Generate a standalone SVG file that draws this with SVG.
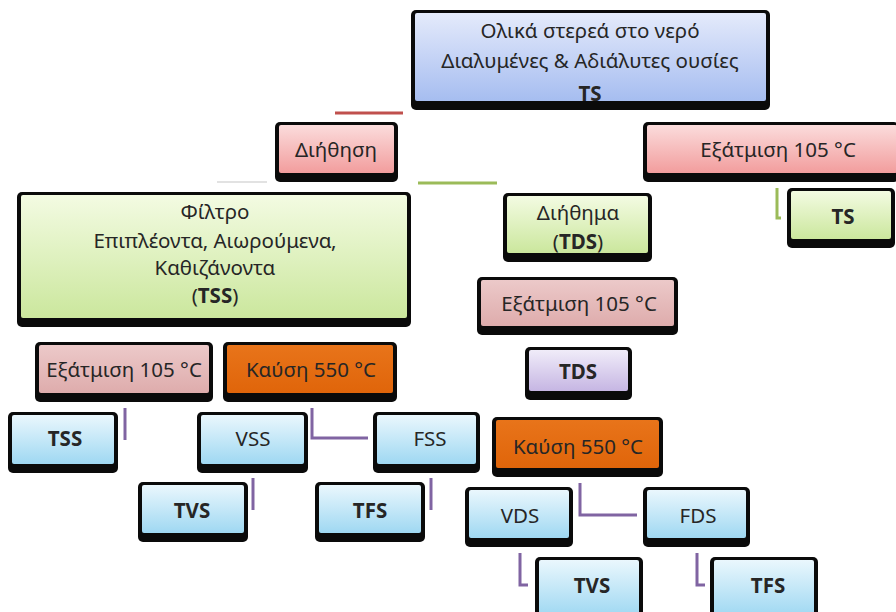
<svg xmlns="http://www.w3.org/2000/svg" width="896" height="612" viewBox="0 0 896 612">
<defs>
<linearGradient id="gBlue" x1="0" y1="0" x2="0" y2="1"><stop offset="0" stop-color="#e4eafb"/><stop offset="1" stop-color="#a6bdf0"/></linearGradient>
<linearGradient id="gPink" x1="0" y1="0" x2="0" y2="1"><stop offset="0" stop-color="#fbdcdc"/><stop offset="1" stop-color="#f29d9d"/></linearGradient>
<linearGradient id="gGreen" x1="0" y1="0" x2="0" y2="1"><stop offset="0" stop-color="#f3fbe2"/><stop offset="1" stop-color="#cbe79d"/></linearGradient>
<linearGradient id="gDusty" x1="0" y1="0" x2="0" y2="1"><stop offset="0" stop-color="#ecc9c9"/><stop offset="1" stop-color="#deacac"/></linearGradient>
<linearGradient id="gLav" x1="0" y1="0" x2="0" y2="1"><stop offset="0" stop-color="#f0ecf9"/><stop offset="1" stop-color="#c6b6e3"/></linearGradient>
<linearGradient id="gOrange" x1="0" y1="0" x2="0" y2="1"><stop offset="0" stop-color="#e8741a"/><stop offset="1" stop-color="#e0650a"/></linearGradient>
<linearGradient id="gSky" x1="0" y1="0" x2="0" y2="1"><stop offset="0" stop-color="#eaf7fd"/><stop offset="1" stop-color="#9fd8f2"/></linearGradient>
</defs>
<style>
.sh{fill:#0a0a0a}
.t{font-family:"Noto Sans","Open Sans","DejaVu Sans",sans-serif;font-size:20.5px;fill:#262626;text-anchor:middle}
.b{font-weight:bold}
.cp{fill:none;stroke:#8064a2;stroke-width:3}
.cg{fill:none;stroke:#9bbb59;stroke-width:3}
.cr{fill:none;stroke:#c0504d;stroke-width:3}
.cx{fill:none;stroke:#e2e2e2;stroke-width:2}
</style>
<rect width="896" height="612" fill="#ffffff"/>
<g id="connectors">
<path class="cr" d="M335,113 H403"/>
<path class="cg" d="M418,183 H497"/>
<path class="cx" d="M217,182 H267"/>
<path class="cg" d="M777,188 V218 H781"/>
<path class="cp" d="M125,408 V440"/>
<path class="cp" d="M312,408 V438 H368"/>
<path class="cp" d="M253,478 V510"/>
<path class="cp" d="M431,478 V510"/>
<path class="cp" d="M580,483 V515 H637"/>
<path class="cp" d="M520,553 V585 H528"/>
<path class="cp" d="M697,553 V585 H705"/>
</g>
<g id="n-top"><rect class="sh" x="411" y="10" width="359" height="100" rx="5"/><rect x="415" y="13" width="351" height="88" rx="2" fill="url(#gBlue)"/>
<text class="t" x="590" y="38">Ολικά στερεά στο νερό</text><text class="t" x="590" y="68">Διαλυμένες &amp; Αδιάλυτες ουσίες</text><text class="t b" x="590" y="101">TS</text></g>
<g id="n-diithisi"><rect class="sh" x="275" y="122" width="123" height="60" rx="5"/><rect x="279" y="125" width="115" height="48" rx="2" fill="url(#gPink)"/><text class="t" x="336" y="157">Διήθηση</text></g>
<g id="n-exat-tr"><rect class="sh" x="643" y="122" width="256" height="60" rx="5"/><rect x="647" y="125" width="250" height="48" rx="2" fill="url(#gPink)"/><text class="t" x="778" y="157">Εξάτμιση 105  °C</text></g>
<g id="n-ts"><rect class="sh" x="787" y="188" width="108" height="60" rx="5"/><rect x="791" y="191" width="100" height="48" rx="2" fill="url(#gGreen)"/><text class="t b" x="843" y="224">TS</text></g>
<g id="n-filtro"><rect class="sh" x="17" y="192" width="394" height="135" rx="5"/><rect x="21" y="195" width="386" height="123" rx="2" fill="url(#gGreen)"/>
<text class="t" x="215" y="219">Φίλτρο</text><text class="t" x="215" y="248">Επιπλέοντα, Αιωρούμενα,</text><text class="t" x="215" y="275">Καθιζάνοντα</text><text class="t" x="215" y="303">(<tspan class="b">TSS</tspan>)</text></g>
<g id="n-diithima"><rect class="sh" x="503" y="193" width="149" height="69" rx="5"/><rect x="507" y="196" width="141" height="57" rx="2" fill="url(#gGreen)"/>
<text class="t" x="578" y="220">Διήθημα</text><text class="t" x="578" y="249">(<tspan class="b">TDS</tspan>)</text></g>
<g id="n-exat-mid"><rect class="sh" x="477" y="277" width="201" height="58" rx="5"/><rect x="481" y="280" width="193" height="46" rx="2" fill="url(#gDusty)"/><text class="t" x="579" y="311">Εξάτμιση 105 °C</text></g>
<g id="n-tds"><rect class="sh" x="525" y="347" width="107" height="53" rx="5"/><rect x="529" y="350" width="99" height="41" rx="2" fill="url(#gLav)"/><text class="t b" x="578" y="379">TDS</text></g>
<g id="n-exat-left"><rect class="sh" x="35" y="342" width="178" height="60" rx="5"/><rect x="39" y="345" width="170" height="48" rx="2" fill="url(#gDusty)"/><text class="t" x="124" y="377">Εξάτμιση 105 °C</text></g>
<g id="n-kausi-left"><rect class="sh" x="223" y="342" width="174" height="60" rx="5"/><rect x="227" y="345" width="166" height="48" rx="2" fill="url(#gOrange)"/><text class="t" x="311" y="377">Καύση 550 °C</text></g>
<g id="n-tss"><rect class="sh" x="8" y="412" width="110" height="61" rx="5"/><rect x="12" y="415" width="102" height="49" rx="2" fill="url(#gSky)"/><text class="t b" x="65" y="446">TSS</text></g>
<g id="n-vss"><rect class="sh" x="197" y="412" width="111" height="61" rx="5"/><rect x="201" y="415" width="103" height="49" rx="2" fill="url(#gSky)"/><text class="t" x="253" y="446">VSS</text></g>
<g id="n-fss"><rect class="sh" x="373" y="412" width="107" height="61" rx="5"/><rect x="377" y="415" width="99" height="49" rx="2" fill="url(#gSky)"/><text class="t" x="430" y="446">FSS</text></g>
<g id="n-kausi-right"><rect class="sh" x="492" y="417" width="171" height="60" rx="5"/><rect x="496" y="420" width="163" height="48" rx="2" fill="url(#gOrange)"/><text class="t" x="578" y="454">Καύση 550 °C</text></g>
<g id="n-tvs-left"><rect class="sh" x="138" y="482" width="110" height="60" rx="5"/><rect x="142" y="485" width="102" height="48" rx="2" fill="url(#gSky)"/><text class="t b" x="192" y="518">TVS</text></g>
<g id="n-tfs-left"><rect class="sh" x="315" y="482" width="110" height="60" rx="5"/><rect x="319" y="485" width="102" height="48" rx="2" fill="url(#gSky)"/><text class="t b" x="370" y="518">TFS</text></g>
<g id="n-vds"><rect class="sh" x="465" y="487" width="108" height="60" rx="5"/><rect x="469" y="490" width="100" height="48" rx="2" fill="url(#gSky)"/><text class="t" x="520" y="523">VDS</text></g>
<g id="n-fds"><rect class="sh" x="643" y="487" width="107" height="60" rx="5"/><rect x="647" y="490" width="99" height="48" rx="2" fill="url(#gSky)"/><text class="t" x="698" y="523">FDS</text></g>
<g id="n-tvs-right"><rect class="sh" x="535" y="557" width="108" height="62" rx="5"/><rect x="539" y="560" width="100" height="56" rx="2" fill="url(#gSky)"/><text class="t b" x="592" y="593">TVS</text></g>
<g id="n-tfs-right"><rect class="sh" x="710" y="557" width="108" height="62" rx="5"/><rect x="714" y="560" width="100" height="56" rx="2" fill="url(#gSky)"/><text class="t b" x="768" y="593">TFS</text></g>
</svg>
